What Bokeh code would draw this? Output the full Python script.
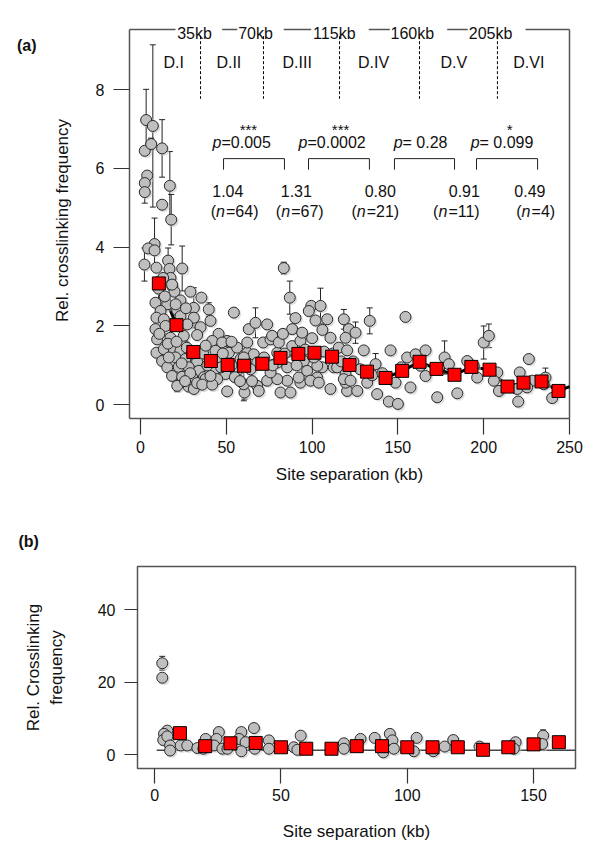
from bokeh.plotting import figure
from bokeh.models import Range1d, FixedTicker, ColumnDataSource, Spacer, LinearAxis
from bokeh.layouts import column, row
from bokeh.embed import file_html
from bokeh.resources import INLINE
from bokeh.core.properties import value
from bokeh.transform import dodge

FONT = "Liberation Sans"

# ---------------- panel (a) data ----------------
a_x = [3.3, 7.2, 2.5, 6.2, 12.6, 3.9, 2.5, 2.5, 17.1, 12.6, 17.9, 8.2, 4.5, 8.2, 2.3, 9.3, 16.1, 16.9,
       24.3, 17.5, 13.2, 18.5, 19.8, 29.1, 35.5, 8.7, 15.6, 23.3, 11.7, 21.4, 31.1, 39.8, 9.3, 13.6,
       23.3, 31.1, 40.8, 35.0, 8.7, 14.6, 27.2, 9.7, 17.5, 25.2, 33.0, 9.3, 13.6, 19.4, 23.3, 12.6,
       20.4, 26.2, 33.0, 15.6, 22.3, 28.1, 34.0, 18.4, 24.3, 30.1, 21.4, 28.1, 31.1, 18.4,
       10.5, 14.2, 20.5, 26.5, 11.0, 16.0, 21.0, 27.0, 30.0, 16.5, 24.0, 29.0, 36.5, 37.0, 26.0, 33.0,
       37.9, 36.0, 54.4, 45.5, 41.8, 50.5, 47.6, 43.7, 50.5, 51.5, 42.7, 49.5, 44.7, 41.8, 50.5, 40.8,
       56.3, 62.2, 58.3, 66.0, 68.0, 64.1, 56.3, 60.6, 68.0, 63.1, 67.0, 62.2, 60.2, 60.2, 68.9,
       38.0, 39.0, 45.0, 47.0, 53.0, 55.0, 58.0, 65.0, 53.0, 48.0,
       73.8, 71.5, 75.8, 87.0, 83.5, 90.3, 99.5, 104.9, 102.0, 108.8, 98.1, 79.7, 79.7, 88.4, 93.2,
       95.2, 97.1, 105.9, 112.6, 73.8, 81.6, 87.4, 85.5, 93.2, 103.0, 110.7, 76.7, 80.6, 88.4, 94.2,
       100.0, 110.7, 79.7, 92.2, 99.0, 103.9, 75.8, 85.5, 103.0, 114.6,
       72.0, 77.0, 84.0, 91.0, 96.0, 101.0, 107.0, 112.0, 83.0, 106.0,
       118.5, 121.4, 115.6, 119.5, 120.4, 119.5, 133.6, 154.4, 125.3, 119.5, 120.4, 130.1, 145.7,
       137.0, 155.4, 118.5, 122.4, 126.3, 132.1, 137.9, 144.7, 150.0, 148.6, 157.3,
       124.0, 128.0, 135.0, 141.0, 152.0, 117.0,
       160.3, 166.1, 163.2, 166.1, 177.2, 179.7, 172.9, 184.6, 190.4, 194.2, 200.0, 203.0, 196.2,
       207.9, 205.9, 208.9, 226.3, 221.0, 228.3, 220.1, 219.5, 225.3, 236.0, 239.9, 235.0]
a_y = [7.23, 7.08, 6.45, 6.62, 6.51, 5.82, 5.63, 5.40, 5.56, 5.08, 4.70, 4.08, 3.97, 3.92, 3.56, 3.48, 3.66, 3.45,
       3.46, 3.22, 3.22, 3.01, 2.87, 2.87, 2.72, 2.59, 2.55, 2.65, 2.38, 2.40, 2.46, 2.42, 2.21, 2.17,
       2.25, 2.21, 2.13, 1.97, 1.92, 2.00, 2.04, 1.66, 1.70, 1.75, 1.77, 1.32, 1.41, 1.41, 1.37, 1.11,
       1.20, 1.16, 1.10, 0.95, 0.96, 0.95, 0.86, 0.73, 0.71, 0.69, 0.48, 0.46, 0.40, 3.05,
       2.95, 2.75, 2.55, 2.45, 1.80, 1.55, 1.60, 1.45, 1.30, 1.20, 1.05, 0.80, 1.30, 0.70, 0.60, 0.55,
       0.65, 0.51, 2.34, 1.80, 1.62, 1.62, 1.58, 1.37, 1.35, 1.32, 0.86, 0.78, 0.65, 0.51, 0.34, 0.73,
       1.45, 1.32, 1.16, 1.28, 1.07, 0.90, 0.86, 0.31, 0.48, 1.92, 2.08, 1.58, 1.20, 0.52, 0.35,
       1.50, 1.00, 1.10, 0.95, 1.00, 0.70, 0.60, 0.60, 1.60, 1.30,
       2.04, 1.58, 1.66, 2.72, 3.47, 2.20, 2.51, 2.51, 2.14, 2.17, 2.38, 1.32, 1.07, 1.49, 1.62,
       1.11, 0.86, 0.95, 0.95, 0.61, 0.31, 0.31, 0.61, 0.56, 0.69, 0.40, 1.75, 1.58, 1.92, 1.83,
       1.69, 1.70, 0.65, 0.69, 0.61, 0.56, 0.82, 0.95, 0.99, 0.95,
       1.20, 1.00, 1.30, 1.00, 1.40, 1.20, 1.35, 1.30, 1.80, 1.90,
       2.17, 1.92, 1.45, 0.78, 0.35, 0.56, 2.13, 2.23, 1.83, 1.70, 1.38, 1.38, 1.38,
       1.03, 1.20, 0.65, 0.61, 0.35, 0.56, 0.27, 0.08, 0.02, 0.56, 0.44,
       1.10, 0.90, 0.75, 0.80, 0.95, 1.10,
       1.28, 1.38, 0.99, 0.73, 1.20, 1.03, 0.19, 0.29, 1.11, 0.99, 1.58, 1.75, 0.69,
       0.82, 0.61, 0.35, 1.16, 0.82, 0.61, 0.08, 0.40, 0.44, 0.69, 0.17, 0.52]
a_se = [0.78, 2.06, 0.10, 0.15, 0.73, 0.10, 0.10, 0.28, 0.87, 0.10, 0.64, 0.66, 0.10, 0.10, 0.42, 0.10, 0.32, 0.10,
        0.57, 0.10, 0.10, 0.10, 0.10, 0.10, 0.10, 0.10, 0.10, 0.10, 0.10, 0.10, 0.51, 0.17, 0.10, 0.10,
        0.10, 0.10, 0.10, 0.10, 0.10, 0.10, 0.10, 0.10, 0.10, 0.10, 0.10, 0.10, 0.10, 0.10, 0.10, 0.10,
        0.10, 0.10, 0.10, 0.10, 0.10, 0.10, 0.10, 0.10, 0.10, 0.10, 0.15, 0.10, 0.10, 0.10,
        0.30, 0.10, 0.35, 0.10, 0.10, 0.25, 0.10, 0.30, 0.10, 0.10, 0.10, 0.10, 0.10, 0.10, 0.10, 0.10,
        0.10, 0.10, 0.10, 0.10, 0.10, 0.10, 0.10, 0.10, 0.10, 0.10, 0.10, 0.10, 0.10, 0.10, 0.10, 0.10,
        0.10, 0.10, 0.10, 0.10, 0.10, 0.10, 0.10, 0.17, 0.10, 0.10, 0.38, 0.10, 0.10, 0.42, 0.10,
        0.10, 0.10, 0.10, 0.10, 0.10, 0.10, 0.10, 0.10, 0.10, 0.10,
        0.10, 0.10, 0.10, 0.42, 0.15, 0.10, 0.10, 0.45, 0.10, 0.10, 0.10, 0.10, 0.10, 0.10, 0.10,
        0.10, 0.10, 0.10, 0.10, 0.10, 0.10, 0.10, 0.10, 0.10, 0.10, 0.10, 0.10, 0.10, 0.10, 0.10,
        0.10, 0.10, 0.10, 0.10, 0.10, 0.10, 0.10, 0.10, 0.10, 0.10,
        0.10, 0.10, 0.10, 0.10, 0.10, 0.10, 0.10, 0.10, 0.10, 0.10,
        0.25, 0.10, 0.10, 0.10, 0.10, 0.10, 0.33, 0.10, 0.27, 0.10, 0.10, 0.10, 0.10,
        0.27, 0.10, 0.10, 0.10, 0.10, 0.10, 0.10, 0.10, 0.10, 0.10, 0.10,
        0.10, 0.10, 0.10, 0.10, 0.10, 0.10,
        0.10, 0.10, 0.10, 0.10, 0.42, 0.10, 0.10, 0.10, 0.10, 0.10, 0.42, 0.30, 0.10,
        0.10, 0.10, 0.10, 0.10, 0.10, 0.10, 0.10, 0.10, 0.10, 0.24, 0.10, 0.10]

a_bin_x = [10.7, 21.0, 30.8, 41.0, 50.8, 60.4, 71.0, 81.6, 92.0, 101.4, 111.6, 121.8, 132.0, 142.8,
           152.5, 162.6, 172.5, 183.0, 192.8, 203.4, 213.9, 223.2, 233.7, 243.6]
a_bin_y = [3.08, 2.02, 1.34, 1.11, 1.01, 0.99, 1.04, 1.19, 1.29, 1.32, 1.22, 1.01, 0.84, 0.68,
           0.86, 1.09, 0.91, 0.76, 0.96, 0.89, 0.46, 0.56, 0.59, 0.35]
a_trend_x = a_bin_x + [250.0]
a_trend_y = a_bin_y + [0.46]

# panel (a) box: left/right/bottom sides, and the top side broken by the kb labels
a_box_left, a_box_right, a_box_bottom, a_box_top = -6.4, 250.0, -0.35, 9.53
a_top_seg_x0 = [-6.4, 47.6, 83.5, 133.0, 178.7, 224.4]
a_top_seg_x1 = [20.4, 56.4, 99.5, 145.3, 190.7, 250.0]
a_tag_y = 9.12  # height of the "(a)" panel tag

# domain annotations (panel a)
dom_names = ["D.I", "D.II", "D.III", "D.IV", "D.V", "D.VI"]
dom_x = [19.4, 51.5, 91.3, 135.8, 182.6, 226.3]
kb_labels = ["35kb", "70kb", "115kb", "160kb", "205kb"]
kb_label_x = [21.4, 56.9, 100.6, 145.7, 191.3]
kb_line_x = [35.0, 71.7, 116.0, 162.6, 208.0]

p_italic = ["p", "p", "p", "p"]
p_rest = ["=0.005", "=0.0002", "= 0.28", "= 0.099"]
p_split_x = [47.2, 97.3, 152.7, 197.6]
star_text = ["***", "***", "*"]
star_x = [62.9, 116.6, 215.2]
br_left = [48.4, 97.9, 148.0, 195.8]
br_right = [83.9, 133.4, 183.0, 231.4]
mean_text = ["1.04", "1.31", "0.80", "0.91", "0.49"]
mean_x = [50.9, 90.8, 139.7, 188.7, 226.9]
n_rest = ["=64)", "=67)", "=21)", "=11)", "=4)"]
n_x = [44.0, 82.0, 126.0, 173.6, 222.1]

# ---------------- panel (b) data ----------------
b_x = [3.0, 3.0, 5.0, 3.7, 3.4, 5.0, 6.1, 6.1, 10.3, 12.9, 16.9, 20.2, 19.3, 25.4, 24.5, 23.5, 26.8,
       28.8, 34.3, 33.4, 36.0, 34.3, 39.3, 39.6, 45.2, 45.2, 55.1, 56.5, 57.8, 74.9, 74.9, 81.5, 87.1,
       89.4, 90.5, 93.1, 94.1, 94.7, 103.7, 102.6, 110.3, 114.8, 118.2, 128.6, 142.9, 142.2, 153.8, 153.4]
b_y = [25.2, 21.2, 6.6, 5.7, 4.0, 5.0, 2.5, 1.1, 2.5, 2.5, 1.8, 4.3, 1.6, 6.2, 4.3, 2.5, 1.6,
       1.6, 6.2, 4.3, 3.4, 0.9, 7.3, 1.6, 3.9, 1.6, 2.0, 1.3, 5.2, 3.1, 1.6, 4.3, 4.6,
       2.0, 0.6, 5.7, 3.9, 1.6, 4.6, 0.9, 0.9, 2.2, 4.0, 2.2, 3.4, 1.6, 5.2, 2.9]
b_se = [1.9, 0.3, 0.3, 0.3, 0.3, 0.3, 0.3, 0.3, 0.3, 0.3, 0.3, 0.3, 0.3, 0.3, 0.3, 0.3, 0.3,
        0.3, 0.3, 0.3, 0.3, 0.3, 0.3, 0.3, 0.3, 0.3, 0.3, 0.3, 0.3, 0.3, 0.3, 0.3, 0.3,
        0.3, 0.3, 0.9, 0.3, 0.3, 0.3, 0.3, 0.3, 0.3, 0.3, 0.3, 0.3, 0.3, 1.6, 0.3]
b_bin_x = [10, 20, 30, 40, 50, 60, 70, 80, 90, 100, 110, 120, 130, 140, 150, 160]
b_bin_y = [5.9, 2.3, 3.1, 3.2, 2.0, 1.6, 1.6, 2.3, 2.3, 2.0, 2.0, 2.0, 1.3, 2.0, 2.8, 3.4]
b_ref_x = [0.8, 166.6]
b_ref_y = [1.2, 1.2]

TXT = "#111111"
BOX = "#555555"


def style(p, xt, yt, tick_out):
    p.xaxis.ticker = FixedTicker(ticks=xt)
    p.yaxis.ticker = FixedTicker(ticks=yt)
    p.xgrid.visible = False
    p.ygrid.visible = False
    for ax in p.axis:
        ax.axis_line_color = None
        ax.major_tick_in = 0
        ax.major_tick_out = tick_out
        ax.minor_tick_in = 0
        ax.minor_tick_out = 0
        ax.major_tick_line_color = "#333333"
        ax.major_tick_line_width = 1.2
        ax.major_label_text_font = FONT
        ax.major_label_text_font_size = "16px"
        ax.major_label_text_color = TXT
        ax.axis_label_text_font = FONT
        ax.axis_label_text_font_size = "17px"
        ax.axis_label_text_font_style = "normal"
        ax.axis_label_text_color = TXT
    p.outline_line_color = BOX
    p.outline_line_width = 1.5
    p.background_fill_color = "white"
    p.border_fill_color = "white"


def draw_points(p, xs, ys, ses, sdx, sdy):
    lo = [y - s for y, s in zip(ys, ses)]
    hi = [y + s for y, s in zip(ys, ses)]
    src = ColumnDataSource(dict(x=xs, y=ys, lo=lo, hi=hi))
    p.segment(x0="x", y0="lo", x1="x", y1="hi", source=src, line_color="#222222", line_width=1)
    p.scatter(x="x", y="hi", source=src, marker="dash", size=6, line_color="#222222", line_width=1)
    p.scatter(x="x", y="lo", source=src, marker="dash", size=6, line_color="#222222", line_width=1)
    p.scatter(x=dodge("x", sdx), y=dodge("y", -sdy), source=src, marker="circle", size=12,
              fill_color="#c4c4c4", fill_alpha=0.55, line_color=None)
    p.scatter(x="x", y="y", source=src, marker="circle", size=11,
              fill_color="#bfbfbf", line_color="#2a2a2a", line_width=1)


# ---------------- figure (a) ----------------
# frame is a little larger than the drawn box so the labels sitting on the top side are not clipped
pa = figure(frame_width=444, frame_height=400, output_backend="svg", toolbar_location=None,
            x_range=Range1d(-7.566, 251.166), y_range=Range1d(-0.4008, 9.7584),
            min_border_left=127, min_border_right=29, min_border_top=20, min_border_bottom=88)
style(pa, [0, 50, 100, 150, 200, 250], [0, 2, 4, 6, 8], 14)
pa.outline_line_color = None
for ax in pa.axis:
    ax.major_tick_in = 2
pa.xaxis.axis_label = "Site separation (kb)"
pa.yaxis.axis_label = "Rel. crosslinking frequency"
pa.xaxis.major_label_standoff = 6
pa.yaxis.major_label_standoff = 9
pa.xaxis.axis_label_standoff = 9
pa.yaxis.axis_label_standoff = 21

# "(a)" tag as the single label of an outer, line-less left axis
tag_axis = LinearAxis(ticker=FixedTicker(ticks=[a_tag_y]), major_label_overrides={a_tag_y: "(a)"},
                      axis_line_color=None, major_tick_line_color=None, minor_tick_line_color=None,
                      major_tick_in=0, major_tick_out=0, minor_tick_in=0, minor_tick_out=0,
                      major_label_standoff=13, major_label_text_font=FONT,
                      major_label_text_font_size="16px", major_label_text_font_style="bold",
                      major_label_text_color=TXT)
pa.add_layout(tag_axis, "left")

# box
pa.segment(x0=[a_box_left, a_box_right, a_box_left], y0=[a_box_bottom, a_box_bottom, a_box_bottom],
           x1=[a_box_left, a_box_right, a_box_right], y1=[a_box_top, a_box_top, a_box_bottom],
           line_color=BOX, line_width=1.5)
pa.segment(x0=a_top_seg_x0, y0=[a_box_top] * len(a_top_seg_x0), x1=a_top_seg_x1,
           y1=[a_box_top] * len(a_top_seg_x1), line_color=BOX, line_width=1.5)
pa.text(x=kb_label_x, y=[9.42] * len(kb_label_x), text=kb_labels, text_font=value(FONT),
        text_font_size="16px", text_align="left", text_baseline="alphabetic", text_color=TXT)

pa.line(a_trend_x, a_trend_y, line_color="black", line_width=3)
draw_points(pa, a_x, a_y, a_se, 0.87, 0.038)
pa.scatter(a_bin_x, a_bin_y, marker="square", size=13, fill_color="#ff0000",
           line_color="black", line_width=1)

# dashed domain boundaries
pa.segment(x0=kb_line_x, y0=[9.36] * len(kb_line_x), x1=kb_line_x, y1=[7.77] * len(kb_line_x),
           line_color="black", line_width=1, line_dash="3 2")
pa.text(x=dom_x, y=[8.70] * len(dom_x), text=dom_names, text_font=value(FONT),
        text_font_size="16px", text_align="center", text_baseline="alphabetic", text_color=TXT)

# p values
pa.text(x=p_split_x, y=[6.66] * 4, text=p_italic, text_font=value(FONT), text_font_style="italic",
        text_font_size="16px", text_align="right", text_baseline="alphabetic", text_color=TXT)
pa.text(x=p_split_x, y=[6.66] * 4, text=p_rest, text_font=value(FONT),
        text_font_size="16px", text_align="left", text_baseline="alphabetic", text_color=TXT)
pa.text(x=star_x, y=[6.99] * 3, text=star_text, text_font=value(FONT),
        text_font_size="15px", text_align="center", text_baseline="alphabetic", text_color=TXT)
# brackets
pa.segment(x0=br_left, y0=[6.25] * 4, x1=br_right, y1=[6.25] * 4, line_color="#222222", line_width=1)
pa.segment(x0=br_left, y0=[6.25] * 4, x1=br_left, y1=[5.97] * 4, line_color="#222222", line_width=1)
pa.segment(x0=br_right, y0=[6.25] * 4, x1=br_right, y1=[5.97] * 4, line_color="#222222", line_width=1)
# means and n
pa.text(x=mean_x, y=[5.44] * 5, text=mean_text, text_font=value(FONT),
        text_font_size="16px", text_align="center", text_baseline="alphabetic", text_color=TXT)
pa.text(x=n_x, y=[4.91] * 5, text=["("] * 5, text_font=value(FONT),
        text_font_size="16px", text_align="right", text_baseline="alphabetic", text_color=TXT)
pa.text(x=n_x, y=[4.91] * 5, text=["n"] * 5, text_font=value(FONT), text_font_style="italic",
        text_font_size="16px", text_align="left", text_baseline="alphabetic", text_color=TXT)
pa.text(x=n_x, y=[4.91] * 5, text=n_rest, text_font=value(FONT), x_offset=10,
        text_font_size="16px", text_align="left", text_baseline="alphabetic", text_color=TXT)

# ---------------- figure (b) ----------------
pb = figure(frame_width=438, frame_height=202, output_backend="svg", toolbar_location=None,
            x_range=Range1d(-6.8, 166.6), y_range=Range1d(-3.86, 51.9), title="(b)",
            min_border_left=129, min_border_right=25, min_border_top=58, min_border_bottom=73)
style(pb, [0, 50, 100, 150], [0, 20, 40], 15)
pb.title.text_font = FONT
pb.title.text_font_size = "16px"
pb.title.text_font_style = "bold"
pb.title.text_color = TXT
pb.title.align = "left"
pb.title.vertical_align = "bottom"
pb.title.offset = -119
pb.title.standoff = 34
pb.yaxis.major_tick_out = 13
pb.xaxis.axis_label = "Site separation (kb)"
pb.yaxis.axis_label = "Rel. Crosslinking\nfrequency"
pb.xaxis.major_label_standoff = 5
pb.yaxis.major_label_standoff = 9
pb.xaxis.axis_label_standoff = 18
pb.yaxis.axis_label_standoff = 29

pb.line(b_ref_x, b_ref_y, line_color="#444444", line_width=1.5)
draw_points(pb, b_x, b_y, b_se, 0.59, 0.41)
pb.scatter(b_bin_x, b_bin_y, marker="square", size=13, fill_color="#ff0000",
           line_color="black", line_width=1)

layout = column(pa, row(Spacer(width=8, height=10), pb), spacing=0)
open("out.html", "w").write(file_html(layout, INLINE))
